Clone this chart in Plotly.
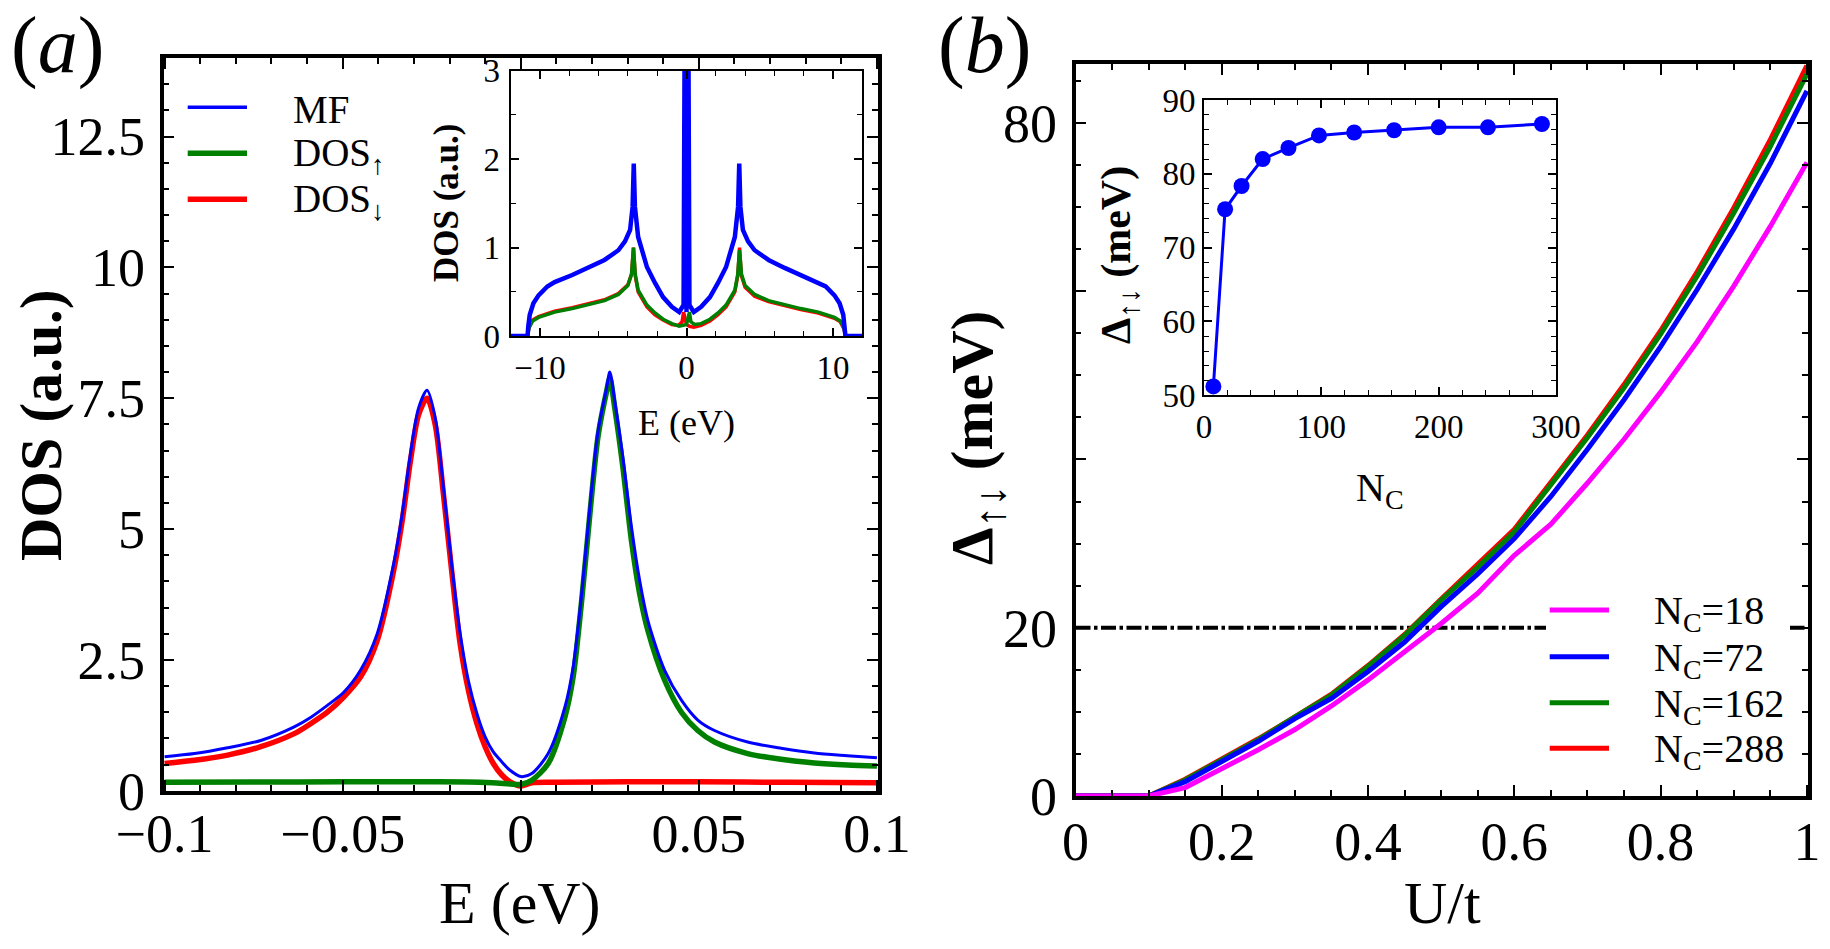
import plotly.graph_objects as go

W, H = 1830, 949
SERIF = "Liberation Serif, Times New Roman, serif"

# ---------------- Panel (a) main: DOS near E=0 ----------------
E_mf = [-0.1, -0.0916, -0.0823, -0.073, -0.0636, -0.059, -0.0543, -0.0497, -0.045, -0.0403,
        -0.0357, -0.0333, -0.031, -0.0287, -0.0263, -0.024, -0.0217, -0.0193, -0.017, -0.0147,
        -0.0123, -0.01, -0.0077, -0.0053, -0.003, 0.0, 0.0031, 0.0077, 0.0124, 0.0147,
        0.0171, 0.0194, 0.0217, 0.0241, 0.025, 0.0264, 0.0287, 0.0311, 0.0334, 0.0357,
        0.0404, 0.0451, 0.0497, 0.0544, 0.0637, 0.0731, 0.0824, 0.0917, 0.1]
DOS_mf = [0.65, 0.71, 0.82, 0.96, 1.22, 1.40, 1.63, 1.88, 2.30, 3.0,
          4.33, 5.28, 6.42, 7.31, 7.65, 7.12, 5.79, 4.26, 3.0, 2.1,
          1.47, 1.03, 0.74, 0.55, 0.39, 0.27, 0.33, 0.71, 1.60, 2.36,
          3.76, 5.41, 6.87, 7.69, 8.0, 7.44, 6.36, 5.03, 4.01, 3.25,
          2.30, 1.73, 1.35, 1.15, 0.93, 0.81, 0.72, 0.67, 0.63]

E_dn = [-0.1, -0.0916, -0.0823, -0.073, -0.0636, -0.059, -0.0543, -0.0497, -0.045, -0.0403,
        -0.0357, -0.0333, -0.031, -0.0287, -0.0263, -0.024, -0.0217, -0.0193, -0.017, -0.0147,
        -0.0123, -0.01, -0.0077, -0.0053, -0.003, 0.0, 0.0031, 0.01, 0.03, 0.05, 0.075, 0.1]
DOS_dn = [0.52, 0.58, 0.68, 0.84, 1.09, 1.28, 1.50, 1.79, 2.17, 2.87,
          4.20, 5.15, 6.29, 7.18, 7.5, 6.99, 5.66, 4.14, 2.80, 1.92,
          1.28, 0.84, 0.52, 0.30, 0.17, 0.09, 0.15, 0.16, 0.17, 0.17, 0.16, 0.15]

E_up = [-0.1, -0.075, -0.05, -0.03, -0.015, -0.008, -0.003, 0.0, 0.0031, 0.0077,
        0.0124, 0.0147, 0.0171, 0.0194, 0.0217, 0.0241, 0.025, 0.0264, 0.0287, 0.0311,
        0.0334, 0.0357, 0.0404, 0.0451, 0.0497, 0.0544, 0.0637, 0.0731, 0.0824, 0.0917, 0.1]
DOS_up = [0.16, 0.165, 0.17, 0.17, 0.165, 0.15, 0.13, 0.12, 0.20, 0.52,
          1.41, 2.17, 3.63, 5.28, 6.77, 7.63, 7.88, 7.31, 6.17, 4.77,
          3.76, 3.06, 2.11, 1.50, 1.15, 0.93, 0.71, 0.60, 0.53, 0.49, 0.47]

# ---------------- Panel (a) inset: full-band DOS ----------------
Ei_mf = [-12, -10.85, -10.8, -10.7, -10.45, -10.1, -9.5, -9.0, -7.8, -6.7, -5.6, -4.65, -4.2,
         -3.85, -3.68, -3.6, -3.52, -3.3, -2.7, -2.15, -1.6, -1.0, -0.5, -0.2, -0.025, 0.0,
         0.025, 0.2, 0.5, 1.0, 1.6, 2.15, 2.7, 3.3, 3.52, 3.6, 3.68, 3.85, 4.2, 4.65, 5.6,
         6.7, 7.8, 9.0, 9.5, 10.1, 10.45, 10.7, 10.8, 10.85, 12]
Di_mf = [0, 0, 0.11, 0.24, 0.37, 0.46, 0.56, 0.61, 0.69, 0.77, 0.86, 0.97, 1.07,
         1.2, 1.46, 1.95, 1.46, 1.12, 0.78, 0.6, 0.44, 0.33, 0.27, 0.35, 7.65, 0.27,
         8.0, 0.35, 0.27, 0.33, 0.44, 0.6, 0.78, 1.12, 1.46, 1.95, 1.46, 1.2, 1.07, 0.97, 0.86,
         0.77, 0.69, 0.61, 0.56, 0.46, 0.37, 0.24, 0.11, 0, 0]

Ei_up = [-12, -10.85, -10.75, -10.5, -10.1, -9.0, -7.8, -6.7, -5.6, -4.65, -4.0, -3.75, -3.62,
         -3.5, -3.3, -2.7, -2.15, -1.6, -1.0, -0.5, -0.2, 0.0, 0.1, 0.2, 0.3, 0.55, 1.0, 1.6,
         2.15, 2.7, 3.3, 3.5, 3.62, 3.75, 4.0, 4.65, 5.6, 6.7, 7.8, 9.0, 10.1, 10.5, 10.75,
         10.85, 12]
Di_up = [0, 0, 0.09, 0.17, 0.21, 0.27, 0.31, 0.35, 0.40, 0.47, 0.57, 0.70, 1.0,
         0.70, 0.52, 0.35, 0.26, 0.19, 0.14, 0.11, 0.12, 0.13, 0.2, 0.27, 0.16, 0.13, 0.14, 0.19,
         0.26, 0.35, 0.52, 0.70, 0.97, 0.70, 0.57, 0.47, 0.40, 0.35, 0.31, 0.27, 0.21, 0.17, 0.09,
         0, 0]

Ei_dn = [-12, -10.85, -10.75, -10.5, -10.1, -9.0, -7.8, -6.7, -5.6, -4.65, -4.0, -3.75, -3.62,
         -3.5, -3.3, -2.7, -2.15, -1.6, -1.0, -0.55, -0.3, -0.2, -0.1, 0.0, 0.2, 0.5, 1.0, 1.6,
         2.15, 2.7, 3.3, 3.5, 3.62, 3.75, 4.0, 4.65, 5.6, 6.7, 7.8, 9.0, 10.1, 10.5, 10.75,
         10.85, 12]
Di_dn = [0, 0, 0.1, 0.18, 0.22, 0.28, 0.32, 0.36, 0.41, 0.48, 0.58, 0.70, 1.0,
         0.68, 0.50, 0.33, 0.24, 0.18, 0.13, 0.12, 0.16, 0.27, 0.2, 0.13, 0.11, 0.10, 0.12, 0.17,
         0.24, 0.33, 0.50, 0.68, 1.0, 0.68, 0.55, 0.45, 0.39, 0.34, 0.30, 0.26, 0.20, 0.16, 0.08,
         0, 0]

# ---------------- Panel (b) main: gap vs U/t ----------------
U = [0, 0.05, 0.1, 0.15, 0.2, 0.25, 0.3, 0.35, 0.4, 0.45, 0.5,
     0.55, 0.6, 0.65, 0.7, 0.75, 0.8, 0.85, 0.9, 0.95, 1.0]
gap_18 = [0, 0, 0, 1.0, 3.2, 5.5, 7.9, 10.7, 13.8, 17.2, 20.5,
          24.1, 28.6, 32.3, 37.2, 42.4, 48.0, 54.0, 60.6, 67.7, 75.3]
gap_72 = [0, 0, 0, 1.7, 4.1, 6.5, 9.2, 11.6, 14.8, 18.3, 22.5,
          26.4, 30.6, 35.6, 41.2, 47.1, 53.4, 60.2, 67.4, 75.2, 83.8]
gap_162 = [0, 0, 0, 1.9, 4.3, 6.7, 9.4, 12.0, 15.4, 19.1, 23.3,
           27.2, 31.4, 37.0, 42.6, 48.5, 54.9, 61.8, 69.3, 77.2, 85.8]
gap_288 = [0, 0, 0, 2.0, 4.4, 6.8, 9.4, 12.1, 15.5, 19.2, 23.4,
           27.5, 31.7, 37.3, 42.9, 48.9, 55.3, 62.3, 69.9, 78.0, 86.8]
THRESHOLD = 20

# ---------------- Panel (b) inset: gap vs N_C ----------------
NC = [8, 18, 32, 50, 72, 98, 128, 162, 200, 242, 288]
gap_NC = [51.2, 75.2, 78.35, 82.0, 83.5, 85.2, 85.6, 85.9, 86.3, 86.3, 86.75]

MF_COLOR = "#0000ff"
UP_COLOR = "#008000"
DN_COLOR = "#ff0000"
MAG = "#ff00ff"

fig = go.Figure()

# panel (a) main
fig.add_trace(go.Scatter(x=E_dn, y=DOS_dn, mode="lines", line=dict(color=DN_COLOR, width=5.5, shape="spline", smoothing=0.8),
                         xaxis="x", yaxis="y", showlegend=False))
fig.add_trace(go.Scatter(x=E_up, y=DOS_up, mode="lines", line=dict(color=UP_COLOR, width=5.5, shape="spline", smoothing=0.8),
                         xaxis="x", yaxis="y", showlegend=False))
fig.add_trace(go.Scatter(x=E_mf, y=DOS_mf, mode="lines", line=dict(color=MF_COLOR, width=3, shape="spline", smoothing=0.8),
                         xaxis="x", yaxis="y", showlegend=False))
# panel (a) inset
fig.add_trace(go.Scatter(x=Ei_dn, y=Di_dn, mode="lines", line=dict(color=DN_COLOR, width=3.5),
                         xaxis="x2", yaxis="y2", showlegend=False))
fig.add_trace(go.Scatter(x=Ei_up, y=Di_up, mode="lines", line=dict(color=UP_COLOR, width=3.5),
                         xaxis="x2", yaxis="y2", showlegend=False))
fig.add_trace(go.Scatter(x=Ei_mf, y=Di_mf, mode="lines", line=dict(color=MF_COLOR, width=4.5),
                         xaxis="x2", yaxis="y2", showlegend=False))
# panel (b) main
fig.add_trace(go.Scatter(x=U, y=gap_288, mode="lines", line=dict(color=DN_COLOR, width=5),
                         xaxis="x3", yaxis="y3", showlegend=False))
fig.add_trace(go.Scatter(x=U, y=gap_162, mode="lines", line=dict(color=UP_COLOR, width=5),
                         xaxis="x3", yaxis="y3", showlegend=False))
fig.add_trace(go.Scatter(x=U, y=gap_72, mode="lines", line=dict(color=MF_COLOR, width=5),
                         xaxis="x3", yaxis="y3", showlegend=False))
fig.add_trace(go.Scatter(x=U, y=gap_18, mode="lines", line=dict(color=MAG, width=5),
                         xaxis="x3", yaxis="y3", showlegend=False))
# panel (b) inset
fig.add_trace(go.Scatter(x=NC, y=gap_NC, mode="lines+markers", line=dict(color=MF_COLOR, width=3),
                         marker=dict(color=MF_COLOR, size=16, symbol="circle"),
                         xaxis="x4", yaxis="y4", showlegend=False))


def px(x):
    return x / W


def py(y):
    return 1 - y / H


def axis(main, standoff, **kw):
    d = dict(showline=True, linecolor="black", linewidth=3.5 if main else 2,
             mirror="allticks", ticks="inside", ticklen=11 if main else 8,
             tickwidth=2 if main else 1.5, tickcolor="black",
             showgrid=False, zeroline=False, automargin=False,
             tickfont=dict(family=SERIF, size=54 if main else 33, color="black"),
             ticklabelstandoff=standoff)
    d.update(kw)
    return d


def minor(dt, main):
    return dict(ticks="inside", ticklen=6 if main else 5, tickwidth=1.5 if main else 1.2,
                tickcolor="black", dtick=dt, showgrid=False)


fig.update_layout(
    template="none",
    width=W, height=H, margin=dict(l=0, r=0, t=0, b=0, autoexpand=False),
    paper_bgcolor="white", plot_bgcolor="white", showlegend=False,
    xaxis=axis(True, -7, domain=[px(163.5), px(878)], anchor="y", range=[-0.1003, 0.1003],
               tick0=-0.1, dtick=0.05, minor=minor(0.01, True)),
    yaxis=axis(True, 4, domain=[py(790.7), py(58)], anchor="x", range=[0, 14],
               tick0=0, dtick=2.5, minor=minor(0.5, True)),
    xaxis2=axis(False, 1, domain=[px(510.7), px(862.3)], anchor="y2", range=[-12, 12],
                tick0=-10, dtick=10, minor=minor(2, False)),
    yaxis2=axis(False, 2, domain=[py(336), py(70.7)], anchor="x2", range=[0, 3],
                tick0=0, dtick=1, minor=minor(0.5, False)),
    xaxis3=axis(True, -5, domain=[px(1075.5), px(1808)], anchor="y3", range=[0, 1.0015],
                tick0=0, dtick=0.2, minor=minor(0.05, True)),
    yaxis3=axis(True, 4, domain=[py(796), py(64)], anchor="x3", range=[0, 87],
                tickmode="array", tickvals=[0, 20, 40, 60, 80], ticktext=["0", "20", "", "", "80"],
                minor=dict(ticks="inside", ticklen=6, tickwidth=1.5, tickcolor="black",
                           tickmode="linear", tick0=0, dtick=5, showgrid=False)),
    xaxis4=axis(False, 1, domain=[px(1204), px(1556)], anchor="y4", range=[0, 300],
                tick0=0, dtick=100, minor=minor(20, False)),
    yaxis4=axis(False, 0, domain=[py(395.3), py(100)], anchor="x4", range=[50, 90],
                tick0=50, dtick=10, minor=minor(2, False)),
)

shapes = []
# threshold line in (b) and white legend background
shapes.append(dict(type="line", xref="x3 domain", yref="y3", x0=0, x1=1, y0=THRESHOLD, y1=THRESHOLD,
                   line=dict(color="black", width=4, dash="15px,3.5px,3.5px,3.5px"), layer="below"))
shapes.append(dict(type="rect", xref="paper", yref="paper", x0=px(1546), x1=px(1790), y0=py(780), y1=py(588),
                   fillcolor="white", line=dict(width=0), layer="below"))

annotations = []
# legend (a)
leg_a = [("MF", MF_COLOR, 3.5, 107.3), ("DOS<sub>↑</sub>", UP_COLOR, 5.5, 153.3), ("DOS<sub>↓</sub>", DN_COLOR, 5.5, 199.3)]
for txt, col, lw, yy in leg_a:
    shapes.append(dict(type="line", xref="paper", yref="paper", x0=px(187.7), x1=px(247), y0=py(yy), y1=py(yy),
                       line=dict(color=col, width=lw)))
    annotations.append(dict(text=txt, x=px(291), y=py(yy + 2), xref="paper", yref="paper", xanchor="left",
                            yanchor="middle", showarrow=False, font=dict(family=SERIF, size=39, color="black")))
# legend (b)
leg_b = [("N<sub>C</sub>=18", MAG, 610), ("N<sub>C</sub>=72", MF_COLOR, 656.7),
         ("N<sub>C</sub>=162", UP_COLOR, 702.7), ("N<sub>C</sub>=288", DN_COLOR, 748.3)]
for txt, col, yy in leg_b:
    shapes.append(dict(type="line", xref="paper", yref="paper", x0=px(1549.7), x1=px(1609), y0=py(yy), y1=py(yy),
                       line=dict(color=col, width=5)))
    annotations.append(dict(text=txt, x=px(1652), y=py(yy + 3), xref="paper", yref="paper", xanchor="left",
                            yanchor="middle", showarrow=False, font=dict(family=SERIF, size=40, color="black")))


def ann(text, x, y, size, angle=0):
    annotations.append(dict(text=text, x=px(x), y=py(y), xref="paper", yref="paper", xanchor="center",
                            yanchor="middle", showarrow=False, textangle=angle,
                            font=dict(family=SERIF, size=size, color="black")))


ann("(<i>a</i>)", 57, 46, 80)
ann("(<i>b</i>)", 984, 46, 80)
ann("<b>DOS (a.u.)</b>", 41, 425, 60, -90)
ann("E (eV)", 519.5, 903, 60)
ann("<b>DOS (a.u.)</b>", 446, 203, 35, -90)
ann("E (eV)", 686, 423, 36)
ann("<b>Δ<sub>↑↓</sub> (meV)</b>", 976, 438, 60, -90)
ann("U/t", 1442, 903, 60)
ann("<b>Δ<sub>↑↓</sub> (meV)</b>", 1119, 255, 42, -90)
ann("N<sub>C</sub>", 1380, 490, 40)

fig.update_layout(shapes=shapes, annotations=annotations)
fig.write_html("out.html")
